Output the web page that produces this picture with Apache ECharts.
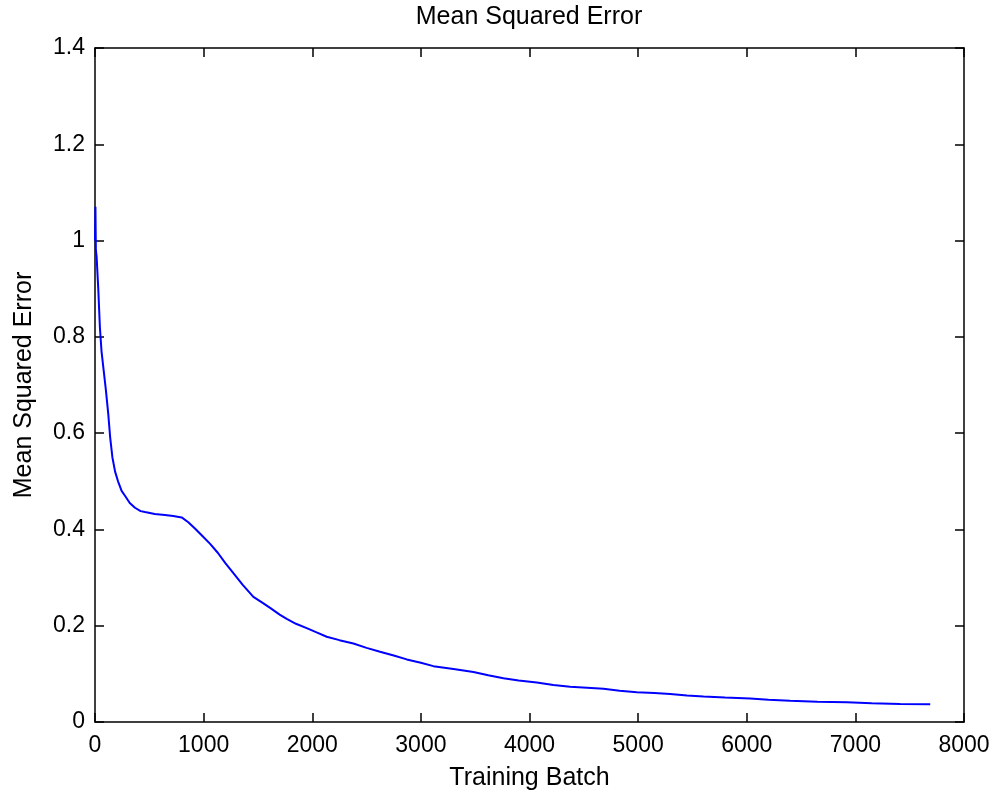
<!DOCTYPE html>
<html>
<head>
<meta charset="utf-8">
<script src="https://cdn.jsdelivr.net/npm/echarts@6/dist/echarts.min.js"></script>
<style>html,body{margin:0;padding:0;background:#fff;}#c{width:993px;height:797px;}</style>
</head>
<body>
<div id="c"></div>
<script>
const batches = [0,4,8,15,30,45,60,80,100,122,140,160,185,212,245,276,320,368,420,460,550,644,720,798,859,920,982,1060,1132,1200,1274,1360,1458,1540,1612,1700,1765,1850,1949,2040,2133,2250,2379,2500,2624,2750,2870,3000,3115,3300,3484,3620,3760,3900,4067,4220,4374,4530,4681,4830,4988,5150,5295,5450,5602,5800,6031,6200,6399,6650,6921,7150,7412,7689];
const mse = [1.0,1.07,0.98,0.966,0.90,0.82,0.77,0.73,0.69,0.64,0.59,0.55,0.52,0.50,0.48,0.47,0.455,0.445,0.438,0.436,0.432,0.43,0.428,0.425,0.415,0.402,0.388,0.37,0.351,0.33,0.309,0.285,0.26,0.248,0.237,0.223,0.214,0.204,0.195,0.186,0.177,0.17,0.163,0.154,0.146,0.138,0.130,0.123,0.116,0.11,0.104,0.097,0.091,0.086,0.082,0.077,0.073,0.071,0.069,0.065,0.062,0.060,0.058,0.055,0.053,0.051,0.049,0.046,0.044,0.042,0.041,0.039,0.0374,0.037];
const xTicks = {min:0, max:8000, interval:1000};
const yTicks = {min:0, max:1.4, interval:0.2};
const titleText = 'Mean Squared Error';
const xName = 'Training Batch';
const yName = 'Mean Squared Error';

const font = 'Liberation Sans, Arial, sans-serif';
const axisLine = {show:true, onZero:false, lineStyle:{color:'#000', width:1.5}};
const axisTick = {show:true, inside:true, length:9, lineStyle:{color:'#000', width:1.5}};
const chart = echarts.init(document.getElementById('c'), null, {renderer:'canvas'});
chart.setOption({
  backgroundColor:'#fff',
  animation:false,
  title:{text:titleText, left:529, textAlign:'center', top:5, padding:0,
    textStyle:{fontFamily:font, fontSize:25, fontWeight:'normal', color:'#000'}},
  grid:{left:95, top:48, right:29, bottom:75, containLabel:false},
  xAxis:[
    {type:'value', position:'bottom', min:xTicks.min, max:xTicks.max, interval:xTicks.interval,
     name:xName, nameLocation:'middle', nameGap:44,
     nameTextStyle:{fontFamily:font, fontSize:25, color:'#000'},
     axisLine, axisTick, splitLine:{show:false},
     axisLabel:{fontFamily:font, fontSize:23, color:'#000', margin:12, formatter:(v)=>String(v)}},
    {type:'value', position:'top', min:xTicks.min, max:xTicks.max, interval:xTicks.interval,
     axisLine, axisTick, splitLine:{show:false}, axisLabel:{show:false}}
  ],
  yAxis:[
    {type:'value', position:'left', min:yTicks.min, max:yTicks.max, interval:yTicks.interval,
     name:yName, nameLocation:'middle', nameGap:58,
     nameTextStyle:{fontFamily:font, fontSize:25, color:'#000'},
     axisLine, axisTick, splitLine:{show:false},
     axisLabel:{fontFamily:font, fontSize:23, color:'#000', margin:10}},
    {type:'value', position:'right', min:yTicks.min, max:yTicks.max, interval:yTicks.interval,
     axisLine, axisTick, splitLine:{show:false}, axisLabel:{show:false}}
  ],
  series:[{
    type:'line', xAxisIndex:0, yAxisIndex:0,
    data: batches.map((b,i)=>[b, mse[i]]),
    showSymbol:false, smooth:false,
    lineStyle:{color:'#0000ff', width:2}
  }]
});
</script>
</body>
</html>
